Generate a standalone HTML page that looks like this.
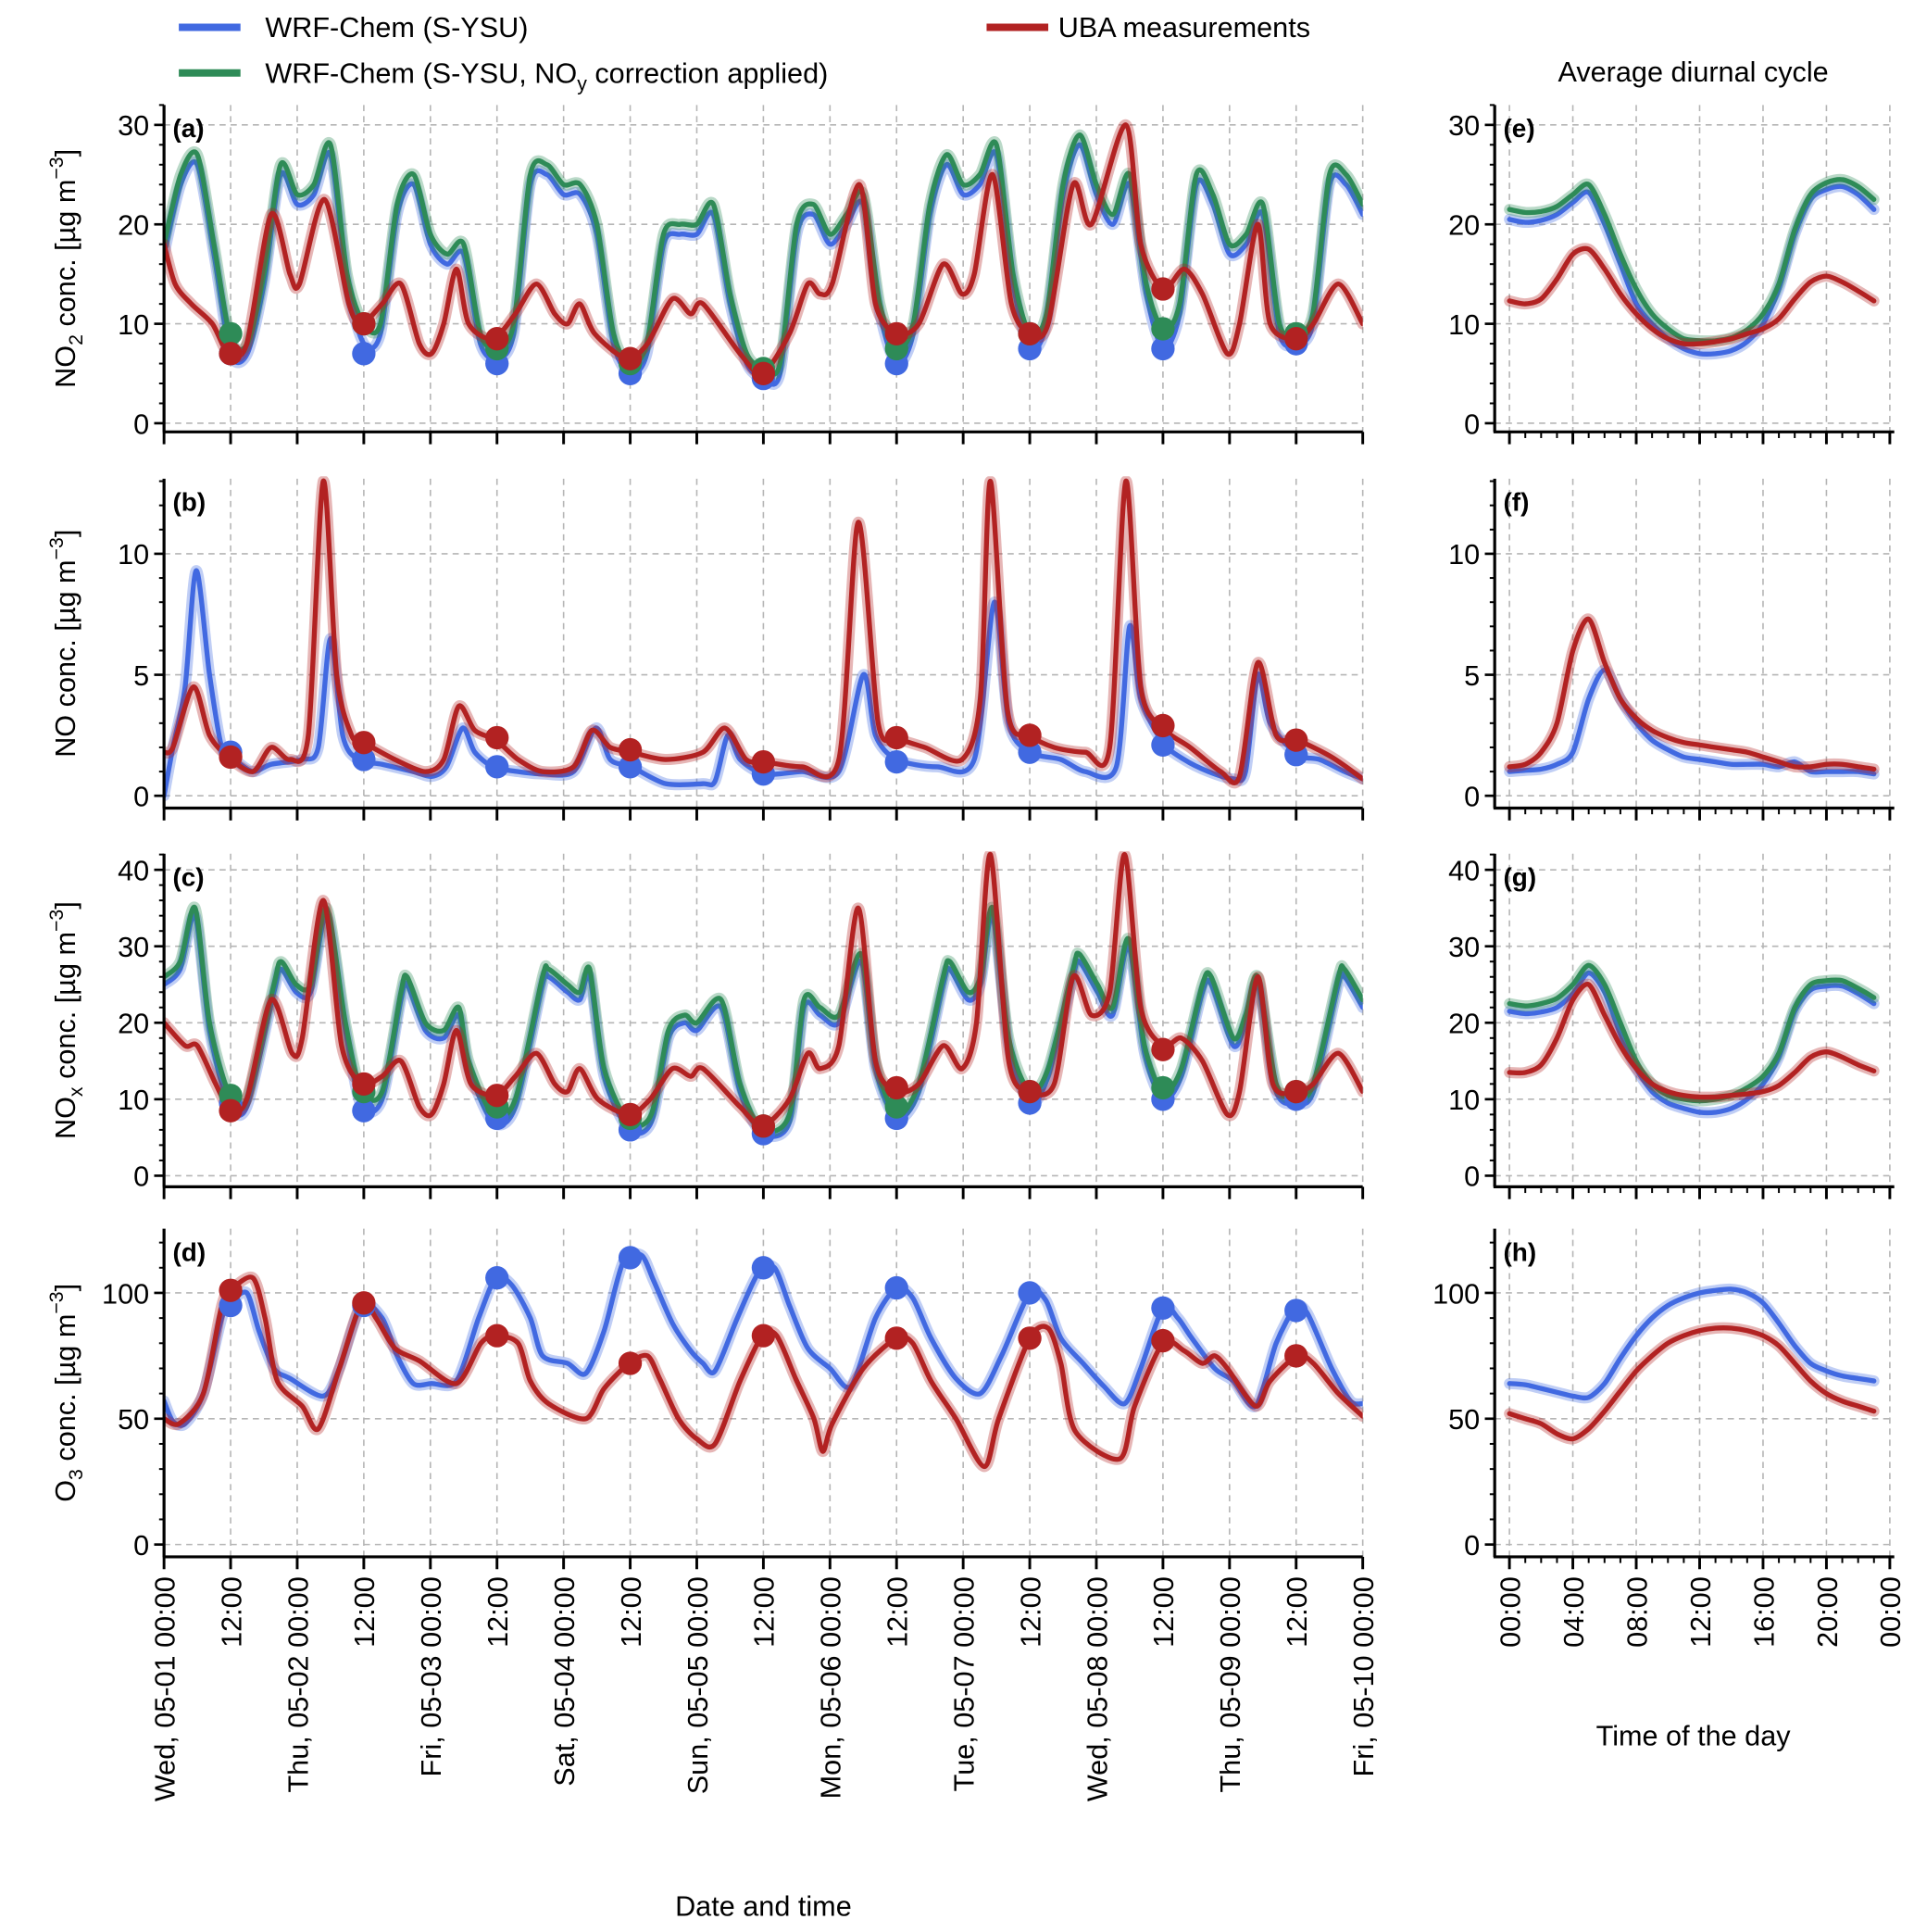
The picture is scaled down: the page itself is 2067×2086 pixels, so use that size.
<!DOCTYPE html>
<html><head><meta charset="utf-8"><style>
html,body{margin:0;padding:0;background:#fff;}
svg{display:block;font-family:"Liberation Sans",Arial,sans-serif;}
</style></head><body>
<svg id="chart" xmlns="http://www.w3.org/2000/svg" width="2067" height="2086" viewBox="0 0 1552 1566">
<g id="legend">
  <g><line x1="145" y1="22" x2="195" y2="22" stroke="#4169e1" stroke-width="6"/><text x="215" y="30" font-size="23">WRF-Chem (S-YSU)</text></g>
  <g><line x1="145" y1="59" x2="195" y2="59" stroke="#2e8b57" stroke-width="6"/><text x="215" y="67" font-size="23">WRF-Chem (S-YSU, NO<tspan font-size="16" dy="6">y</tspan><tspan dy="-6"> correction applied)</tspan></text></g>
  <g><line x1="800" y1="22" x2="850" y2="22" stroke="#b22222" stroke-width="6"/><text x="858" y="30" font-size="23">UBA measurements</text></g>
</g>
<text x="1373" y="66" font-size="23" text-anchor="middle">Average diurnal cycle</text>
<text x="619" y="1553" font-size="23" text-anchor="middle">Date and time</text>
<text x="1373" y="1415" font-size="23" text-anchor="middle">Time of the day</text>
<g id="plots"></g>
</svg>
<script>
// ---------- time series data (t in hours since Wed 05-01 00:00) ----------
const no2GridT = [0,3,6,9,12,15,18,21,24,27,30,33,36,39,42,45,48,51,54,57,60,63,66,69,72,75,78,81,84,87,90,93,96,99,102,105,108,111,114,117,120,123,126,129,132,135,138,141,144,147,150,153,156,159,162,165,168,171,174,177,180,183,186,189,192,195,198,201,204,207,210,213,216];
const no2Green = [18,25,27,18,8.5,8,15,26,23, 24,28,15,10,10,22,25,19, 17,18,9,7.5,10,25,26,24, 24,20,9,6,8,19,20,20, 22,13,7,5.5,6,20,22,19, 21,23,12,7.5,10,22,27,24, 25,28,15,9,11,24,29,24, 21,25,14,9.5,12,25,23,18, 19,22,10,9,11,25,25,22];
const no2Blue = [17,24,26,17,7,7,14,25,22, 23,27,14,8,9,21,24,18, 16,17,8,6.5,9,24,25,23, 23,19,8,5,7,18,19,19, 21,12,6,4.5,5,19,21,18, 20,22,11,6,9,21,26,23, 24,27,14,7.5,10,23,28,23, 20,24,13,7.5,11,24,22,17, 18,21,9,8,10,24,24,21];
const no2RedT = [0,2,4.9,8.7,11.6,14.9,19.3,22.7,24.4,28.9,33.3,35.6,39.3,42.7,46,48.2,50.4,52.7,54.9,59.3,63.3,67.1,70.4,72.7,74.9,77.6,83.3,87.1,91.6,94.9,97.1,103.8,107.8,112.7,116,118.2,120.4,125.3,128.2,132,136,140.4,143.8,146,149.3,152.7,156,159.3,163.8,167.1,173.3,176,180,183.8,187.1,191.6,193.8,197.1,199.3,204.2,207.1,211.6,216];
const no2Red = [18,14,12,10,7,8,21,15,14,22.5,12,10,12,14,8,7,10,15.5,10,8.5,11,14,11,10,12,9,6.5,8,12.5,11,12,7,5,9,14,13,14,24,12,9,10,16,13,15,25,12,9,10,24,20,30,18,13.5,15.5,13,7,10,20,10,8.5,10,14,10];

const noBlueT = [0,1.6,3.8,5.8,8.2,10.4,12.7,16,19.3,24.9,27.8,30,32.2,34.9,39.3,44.9,48.2,50.9,53.8,56,59.3,63.8,68.2,73.8,77.8,80.4,84.2,90.4,97.1,99.3,101.6,103.8,108.2,114.9,121.6,126,128.2,132,139.3,146,149.6,152.2,156,161.6,166,171.6,174,176,180,183.8,188.2,192.7,194.9,197.1,199.3,204.2,208.2,212.7,216];
const noBlue = [0,2,4.5,9.3,5,2,1.5,1,1.3,1.5,2,6.5,2.5,1.5,1.3,1,0.8,1.2,2.8,1.8,1.2,1,0.9,1,2.8,1.5,1.2,0.5,0.5,0.6,2.5,1.5,0.9,1,1,5,2.5,1.5,1.2,1.5,8,3,1.8,1.5,1,1.2,7,4,2.2,1.5,1,0.7,1,5,3,1.7,1.5,1,0.7];
const noRedT = [0,1.6,5.3,8.2,11.6,16,19.3,22.7,26,28.7,31.1,33.8,36,41.6,47.1,50.4,53.1,56,59.8,63.8,68.2,73.8,77.1,80.4,84.2,90.4,97.1,101.1,104.9,108.2,114.9,121.6,125.1,128.7,132,137.1,143.8,147.1,148.9,152,156,160.4,166,170.4,173.3,176,180,184.9,190.4,193.8,197.1,200.4,204.2,210.4,216];
const noRed = [1.8,2,4.5,2.5,1.6,1,2,1.5,2.5,13,5,2.5,2.2,1.5,1,1.5,3.7,2.7,2.3,1.5,1,1.2,2.7,2,1.8,1.5,1.8,2.8,1.5,1.4,1.2,1.5,11.3,3,2.4,2,1.5,4,13,3.5,2.5,2,1.8,2,13,4.5,2.8,2,1,0.8,5.5,2.5,2.3,1.6,0.7];

const noxModT = [0,2.9,5.6,8.2,11.6,14.9,19.8,21.1,23.8,26.4,29.3,32.7,35.6,39.3,42.7,43.8,47.1,50.4,53.1,54.9,59.3,63.3,68.2,69.3,72.7,74.9,76.7,79.3,83.8,87.8,90.9,93.8,96,100.4,103.8,107.8,112.7,115.3,118.2,121.6,125.6,128.2,132,136,140.4,141.6,144.9,147.1,149.3,152.2,156,159.3,163.8,164.9,168.2,170.9,173.8,176.7,180,183.3,187.1,188.7,192.7,194.9,197.1,200.4,204.2,207.1,211.6,212.7,216];
const noxGreen = [26,28,35,20,11,10,25,28,25,25, 35,20,11,11,24,26,20,19,22,15, 8,10,26,27,25,24,27,14,7,8, 19,21,20,23,12,6,8,23,22,21, 29,15,8,12,26,28,24,26,35,18, 11,14,27,29,25,22,31,17,11,14, 25,26,18,21,26,12,10,12,26,27, 23];
const noxBlue = [25,27,34,19,9.5,9,24,27,24,24, 34,19,9,10,23,25,19,18,21,14, 7,9,25,26,24,23,26,13,6,7, 18,20,19,22,11,5.5,7,22,21,20, 28,14,7.5,11,25,27,23,25,34,17, 9.5,13,26,28,24,21,30,16,10,13, 24,25,17,20,25,11,9.5,11,25,26, 22];
const noxRedT = [0,3.8,6,9.3,12,14.9,19.3,23.1,24.9,28.7,32,35.6,39.3,42.7,46,48.2,50.4,52.7,55.3,59.8,63.3,67.1,70.4,72.7,74.9,78.2,83.8,87.6,91.6,94.9,97.1,103.8,107.8,112.7,116,118.2,121.6,125.1,128.2,132,136,140.4,143.8,146.4,148.9,152.2,156,160.4,163.8,167.1,170.4,173.1,176,180,183.3,187.1,191.6,193.8,197.1,199.8,204.2,207.1,211.6,216];
const noxRed = [20,17,17,12,8.5,10,23,16,18,36, 17,12,13,15,9,8,12,19,12,10.5, 13,16,12,11,14,10,8,10,14,13, 14,9,6.5,10,16,14,17,35,15,11, 12,17,14,20,42,15,11,12,26,21, 24,42,22,17,18,15,8,11,26,12, 11,12,16,11];

const o3BlueT = [0,1.6,3.8,7.1,10.4,12,14.9,17.1,19.8,22.7,28.7,31.6,35.6,39.3,42,44.9,48.2,52.7,56.7,59.8,62.7,66,68.2,72.7,76,79.3,82.7,86,88.2,91.6,94.9,97.1,99.3,103.3,107.1,110,112.7,116,120,123.8,128.2,132,134.9,138.2,142.7,147.1,150.9,156,158.9,161.6,165.6,169.3,173.1,176,180,182.7,184.9,189.3,192.7,196.7,200.4,203.8,206,210.4,213.8,216];
const o3Blue = [57,49,48,60,90,96,100,85,70,66, 59,70,95,90,75,64,64,65,90,106, 103,90,75,72,68,85,112,115,105,88, 77,72,69,90,108,110,95,78,70,63, 90,102,98,82,66,60,75,100,97,82, 72,63,56,70,94,90,83,70,65,55, 80,94,92,70,57,56];
const o3RedT = [0,2.7,7.1,10.4,12,16,18.2,20.4,24.9,27.8,31.6,35.6,38.2,41.6,46,52.7,57.1,59.8,63.8,66,69.3,76,79.3,83.8,87.1,89.3,92.7,96,99.3,103.8,107.8,110.4,113.8,117.1,118.7,120.4,126,132,134.9,138.2,142.7,147.8,150.4,156,159.3,161.6,164.2,172.2,174.9,180,183.8,187.1,189.3,191.6,196.7,199.3,204.2,207.1,211.6,216];
const o3Red = [50,48,60,95,101,106,90,65,55,46, 70,96,90,78,73,64,80,83,80,65, 56,50,62,72,75,66,50,42,40,65, 83,83,66,50,37,48,70,82,80,65, 50,31,50,82,86,72,45,34,55,80, 77,72,75,70,55,65,75,72,60,51];

// daily 12:00 markers
const dotT = [12,36,60,84,108,132,156,180,204];
const no2DotBlue = [7,7,6,5,4.5,6,7.5,7.5,8];
const no2DotGreen = [9,10,7.5,6,5.5,7.5,9,9.5,9];
const no2DotRed = [7,10,8.5,6.5,5,9,9,13.5,8.5];
const noDotBlue = [1.8,1.5,1.2,1.2,0.9,1.4,1.8,2.1,1.7];
const noDotRed = [1.6,2.2,2.4,1.9,1.4,2.4,2.5,2.9,2.3];
const noxDotBlue = [9.5,8.5,7.5,6,5.5,7.5,9.5,10,10];
const noxDotGreen = [10.5,11,9,7.5,6.5,9,11,11.5,11];
const noxDotRed = [8.5,12,10.5,8,6.5,11.5,11,16.5,11];
const o3DotBlue = [95,95,106,114,110,102,100,94,93];
const o3DotRed = [101,96,83,72,83,82,82,81,75];

// diurnal cycle data (hour of day)
const hours = [0,1,2,3,4,5,6,7,8,9,10,11,12,13,14,15,16,17,18,19,20,21,22,23];
const dNo2Green = [21.5,21.2,21.3,21.8,23,24,21,17,13.5,11,9.5,8.5,8.3,8.3,8.6,9.4,11,14,19.5,23,24.2,24.5,23.8,22.5];
const dNo2Blue = [20.5,20.2,20.4,21,22.2,23.2,20,16,12,10,8.5,7.5,7,7,7.3,8.2,10,13.5,19,22.5,23.5,23.8,23,21.5];
const dNo2Red = [12.3,12,12.5,14.5,17,17.5,15.5,13,11,9.5,8.5,8,8,8.2,8.5,9,9.5,10.5,12.5,14.2,14.8,14.2,13.3,12.3];
const dNoBlue = [1,1.05,1.1,1.3,1.8,4,5.2,4,3,2.3,1.9,1.6,1.5,1.4,1.3,1.3,1.3,1.2,1.4,1.0,1.0,1.0,1.0,0.9];
const dNoRed = [1.2,1.3,1.8,3,6,7.3,5.5,4,3.2,2.7,2.4,2.2,2.1,2.0,1.9,1.8,1.6,1.4,1.2,1.2,1.3,1.3,1.2,1.1];
const dNoxGreen = [22.5,22.2,22.5,23.2,25,27.5,25,20,15,12,10.5,10,9.8,10,10.5,11.5,13,16,22,25,25.5,25.5,24.5,23.3];
const dNoxBlue = [21.5,21.2,21.4,22,23.8,26.5,24,18.5,14,11,9.5,8.8,8.3,8.3,8.8,10,12,15.5,21.5,24.3,24.8,24.8,23.8,22.5];
const dNoxRed = [13.5,13.5,14.5,18,23,25,21,17,14,12,11,10.5,10.3,10.3,10.5,10.7,11,11.8,13.5,15.5,16.2,15.5,14.5,13.7];
const dO3Blue = [64,63.5,62,60.5,59,58.5,64,74,83,90,95,98,100,101,101.5,100,96,88,79,72,69,67,66,65];
const dO3Red = [52,50,48,44,42,46,53,61,69,75,80,83,85,86,86,85,83,79,72,65,60,57,55,53];

const dateLabels = ["Wed, 05-01 00:00","12:00","Thu, 05-02 00:00","12:00","Fri, 05-03 00:00","12:00","Sat, 05-04 00:00","12:00","Sun, 05-05 00:00","12:00","Mon, 05-06 00:00","12:00","Tue, 05-07 00:00","12:00","Wed, 05-08 00:00","12:00","Thu, 05-09 00:00","12:00","Fri, 05-10 00:00"];
const hourLabels = ["00:00","04:00","08:00","12:00","16:00","20:00","00:00"];

const BLUE="#4169e1", GREEN="#2e8b57", RED="#b22222";
const NS="http://www.w3.org/2000/svg";
const root=document.getElementById('plots');
function mk(tag,attrs,parent){const e=document.createElementNS(NS,tag);for(const k in attrs)e.setAttribute(k,attrs[k]);(parent||root).appendChild(e);return e;}
function smoothPath(pts){
  if(pts.length<2)return '';
  let d='M'+pts[0][0].toFixed(1)+','+pts[0][1].toFixed(1);
  for(let i=0;i<pts.length-1;i++){
    const p0=pts[Math.max(0,i-1)],p1=pts[i],p2=pts[i+1],p3=pts[Math.min(pts.length-1,i+2)];
    const k=0.14;
    const c1=[p1[0]+(p2[0]-p0[0])*k,p1[1]+(p2[1]-p0[1])*k];
    const c2=[p2[0]-(p3[0]-p1[0])*k,p2[1]-(p3[1]-p1[1])*k];
    d+='C'+c1[0].toFixed(1)+','+c1[1].toFixed(1)+' '+c2[0].toFixed(1)+','+c2[1].toFixed(1)+' '+p2[0].toFixed(1)+','+p2[1].toFixed(1);
  }
  return d;
}
let clipId=0;
function panel(cfg){
  const g=mk('g',{});
  
  
  const sx=v=>cfg.x0+(v-cfg.xmin)/(cfg.xmax-cfg.xmin)*(cfg.x1-cfg.x0);
  const sy=v=>cfg.y1-(v-cfg.ymin)/(cfg.ymax-cfg.ymin)*(cfg.y1-cfg.y0);
  cfg.yticks.forEach(v=>{const l=mk('line',{x1:cfg.x0,x2:cfg.x1,y1:sy(v),y2:sy(v),stroke:'#b5b5b5','stroke-width':1.2,'stroke-dasharray':'5,4'},g);
    
    });
  cfg.xgrid.forEach(v=>{const l=mk('line',{x1:sx(v),x2:sx(v),y1:cfg.y0,y2:cfg.y1,stroke:'#b5b5b5','stroke-width':1.2,'stroke-dasharray':'5,4'},g);
    
    });
  const cid='clip'+(clipId++);
  const cp=mk('clipPath',{id:cid},g);mk('rect',{x:cfg.x0,y:cfg.y0-2,width:cfg.x1-cfg.x0,height:cfg.y1-cfg.y0+2},cp);
  const plot=mk('g',{'clip-path':'url(#'+cid+')'},g);
  cfg.series.forEach(s=>{
    const pts=s.t.map((t,i)=>[sx(t),sy(s.v[i])]);
    const d=smoothPath(pts);
    const band=mk('path',{d:d,fill:'none',stroke:s.color,'stroke-opacity':0.33,'stroke-width':9,'stroke-linejoin':'round','stroke-linecap':'round'},plot);
    
    
    const ln=mk('path',{d:d,fill:'none',stroke:s.color,'stroke-width':4,'stroke-linejoin':'round','stroke-linecap':'round'},plot);
    
    
  });
  (cfg.dots||[]).forEach(s=>{
    s.v.forEach((v,i)=>{const c=mk('circle',{cx:sx(dotT[i]),cy:sy(v),r:9.5,fill:s.color},plot);
      
      });
  });
  const ax=mk('line',{x1:cfg.x0,x2:cfg.x0,y1:cfg.y0,y2:cfg.y1,stroke:'#000','stroke-width':2.4},g);
  
  
  const bx=mk('line',{x1:cfg.x0-1,x2:cfg.x1,y1:cfg.y1,y2:cfg.y1,stroke:'#000','stroke-width':2.4},g);
  
  
  cfg.yminor.forEach(v=>mk('line',{x1:cfg.x0-4,x2:cfg.x0,y1:sy(v),y2:sy(v),stroke:'#000','stroke-width':1.5},g));
  cfg.yticks.forEach(v=>{mk('line',{x1:cfg.x0-8,x2:cfg.x0,y1:sy(v),y2:sy(v),stroke:'#000','stroke-width':2},g);
    const t=mk('text',{x:cfg.x0-12,y:sy(v)+8.5,'font-size':23,'text-anchor':'end'},g);t.textContent=v;
    
    });
  cfg.xminor.forEach(v=>mk('line',{x1:sx(v),x2:sx(v),y1:cfg.y1,y2:cfg.y1+5,stroke:'#000','stroke-width':1.5},g));
  cfg.xmajor.forEach(v=>mk('line',{x1:sx(v),x2:sx(v),y1:cfg.y1,y2:cfg.y1+10,stroke:'#000','stroke-width':2.2},g));
  if(cfg.xlabels){cfg.xmajor.forEach((v,i)=>{const x=sx(v),y=cfg.y1+16;
    const t=mk('text',{x:0,y:0,'font-size':23,'text-anchor':'end',transform:'translate('+(x+8.5)+','+y+') rotate(-90)'},g);t.textContent=cfg.xlabels[i];
    
    });}
  const lt=mk('text',{x:cfg.x0+7,y:cfg.y0+26,'font-size':21,'font-weight':'bold'},g);lt.textContent=cfg.letter;
  
  
  if(cfg.ylabel){const yl=mk('text',{x:0,y:0,'font-size':23,'text-anchor':'middle',transform:'translate(61,'+((cfg.y0+cfg.y1)/2)+') rotate(-90)'},g);
    yl.innerHTML=cfg.ylabel;
    
    }
}
function range(a,b,s){const r=[];for(let v=a;v<=b+1e-9;v+=s)r.push(v);return r;}
const unit=' conc. [µg m<tspan font-size="16" dy="-10">−3</tspan><tspan dy="10">]</tspan>';
const L={x0:133,x1:1105,xmin:0,xmax:216,xmajor:range(0,216,12),xminor:[],xgrid:range(12,216,12)};
const R={x0:1212,x1:1536,xmin:-0.93,xmax:24.28,xmajor:range(0,24,4),xminor:range(0,23,1),xgrid:range(0,24,4)};
const frames=[
 {y0:85,y1:350,ymin:-0.87,ymax:32,yticks:[0,10,20,30],yminor:range(0,32,2)},
 {y0:388,y1:655,ymin:-0.51,ymax:13.1,yticks:[0,5,10],yminor:range(0,13,1)},
 {y0:692,y1:962,ymin:-1.45,ymax:42.1,yticks:[0,10,20,30,40],yminor:range(0,42,2)},
 {y0:996,y1:1262,ymin:-4.9,ymax:125.5,yticks:[0,50,100],yminor:range(0,120,10)}
];
function P(side,f,extra){return Object.assign({},side,f,extra);}
panel(P(L,frames[0],{name:'panel-a-no2',letter:'(a)',ylabel:'NO<tspan font-size="16" dy="6">2</tspan><tspan dy="-6">'+unit+'</tspan>',
  series:[{name:'no2-wrf',color:BLUE,t:no2GridT,v:no2Blue},{name:'no2-wrf-noy',color:GREEN,t:no2GridT,v:no2Green},{name:'no2-uba',color:RED,t:no2RedT,v:no2Red}],
  dots:[{name:'no2-wrf',color:BLUE,v:no2DotBlue},{name:'no2-wrf-noy',color:GREEN,v:no2DotGreen},{name:'no2-uba',color:RED,v:no2DotRed}]}));
panel(P(L,frames[1],{name:'panel-b-no',letter:'(b)',ylabel:'NO'+unit,
  series:[{name:'no-wrf',color:BLUE,t:noBlueT,v:noBlue},{name:'no-uba',color:RED,t:noRedT,v:noRed}],
  dots:[{name:'no-wrf',color:BLUE,v:noDotBlue},{name:'no-uba',color:RED,v:noDotRed}]}));
panel(P(L,frames[2],{name:'panel-c-nox',letter:'(c)',ylabel:'NO<tspan font-size="16" dy="6">x</tspan><tspan dy="-6">'+unit+'</tspan>',
  series:[{name:'nox-wrf',color:BLUE,t:noxModT,v:noxBlue},{name:'nox-wrf-noy',color:GREEN,t:noxModT,v:noxGreen},{name:'nox-uba',color:RED,t:noxRedT,v:noxRed}],
  dots:[{name:'nox-wrf',color:BLUE,v:noxDotBlue},{name:'nox-wrf-noy',color:GREEN,v:noxDotGreen},{name:'nox-uba',color:RED,v:noxDotRed}]}));
panel(P(L,frames[3],{name:'panel-d-o3',letter:'(d)',xlabels:dateLabels,ylabel:'O<tspan font-size="16" dy="6">3</tspan><tspan dy="-6">'+unit+'</tspan>',
  series:[{name:'o3-wrf',color:BLUE,t:o3BlueT,v:o3Blue},{name:'o3-uba',color:RED,t:o3RedT,v:o3Red}],
  dots:[{name:'o3-wrf',color:BLUE,v:o3DotBlue},{name:'o3-uba',color:RED,v:o3DotRed}]}));
panel(P(R,frames[0],{name:'panel-e-no2-diurnal',letter:'(e)',
  series:[{name:'no2-diurnal-wrf',color:BLUE,t:hours,v:dNo2Blue},{name:'no2-diurnal-wrf-noy',color:GREEN,t:hours,v:dNo2Green},{name:'no2-diurnal-uba',color:RED,t:hours,v:dNo2Red}]}));
panel(P(R,frames[1],{name:'panel-f-no-diurnal',letter:'(f)',
  series:[{name:'no-diurnal-wrf',color:BLUE,t:hours,v:dNoBlue},{name:'no-diurnal-uba',color:RED,t:hours,v:dNoRed}]}));
panel(P(R,frames[2],{name:'panel-g-nox-diurnal',letter:'(g)',
  series:[{name:'nox-diurnal-wrf',color:BLUE,t:hours,v:dNoxBlue},{name:'nox-diurnal-wrf-noy',color:GREEN,t:hours,v:dNoxGreen},{name:'nox-diurnal-uba',color:RED,t:hours,v:dNoxRed}]}));
panel(P(R,frames[3],{name:'panel-h-o3-diurnal',letter:'(h)',xlabels:hourLabels,
  series:[{name:'o3-diurnal-wrf',color:BLUE,t:hours,v:dO3Blue},{name:'o3-diurnal-uba',color:RED,t:hours,v:dO3Red}]}));
</script>
</body></html>
